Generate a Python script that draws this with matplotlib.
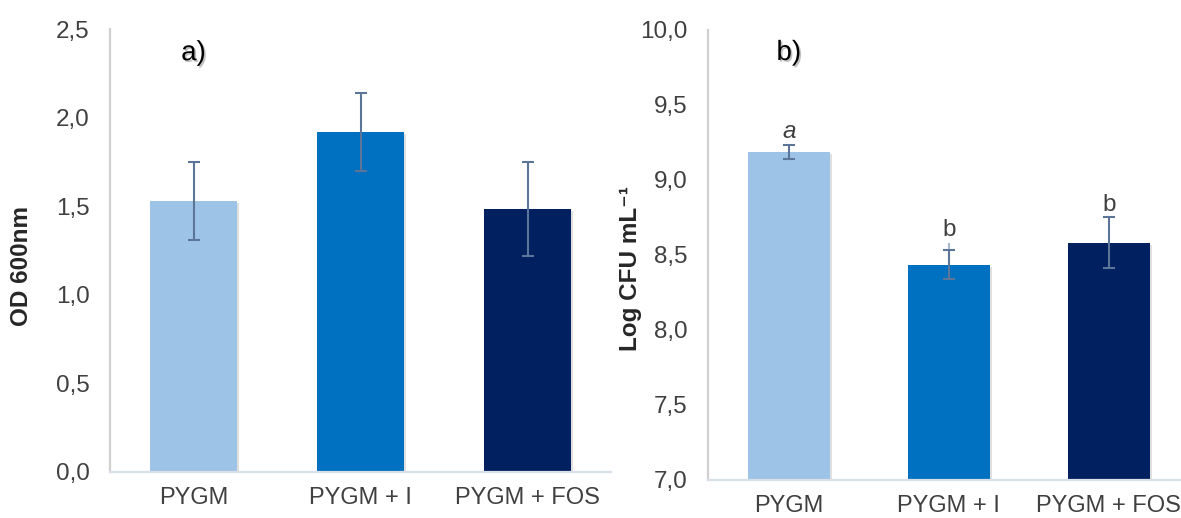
import matplotlib
matplotlib.use("Agg")
import matplotlib.pyplot as plt
import matplotlib.patheffects as pe
import matplotlib.transforms as mtransforms
from matplotlib.ticker import FuncFormatter, MultipleLocator

# ---- data ----
categories = ['PYGM', 'PYGM + I', 'PYGM + FOS']
bar_colors = ['#9DC3E6', '#0070C0', '#002060']

od_values = [1.53, 1.92, 1.485]
od_err = [0.22, 0.222, 0.265]

cfu_values = [9.185, 8.435, 8.58]
cfu_err = [0.048, 0.097, 0.17]
cfu_err_faint = [0.0, 0.147, 0.0]
cfu_letters = ['a', 'b', 'b']
cfu_letter_italic = [True, False, False]

# ---- style ----
plt.rcParams['font.family'] = ['Liberation Sans', 'DejaVu Sans']
W, H = 1181, 518
fig = plt.figure(figsize=(W / 100, H / 100), dpi=100)

TICK_COLOR = '#404040'
ERR_COLOR = '#5b7699'
FAINT_ERR = '#a8b8cf'


def comma_fmt(v, pos):
    return f'{v:.1f}'.replace('.', ',')


def style_axes(ax):
    for s in ['top', 'right']:
        ax.spines[s].set_visible(False)
    ax.spines['left'].set_color('#d0d0d0')
    ax.spines['left'].set_linewidth(1.6)
    ax.spines['bottom'].set_color('#d9dfe8')
    ax.spines['bottom'].set_linewidth(1.6)
    ax.tick_params(axis='both', length=0, colors=TICK_COLOR)
    ax.tick_params(axis='y', labelsize=17.5, pad=14.5)
    ax.tick_params(axis='x', labelsize=17, pad=11)
    ax.yaxis.set_major_formatter(FuncFormatter(comma_fmt))
    ax.set_xticks(range(len(categories)))
    ax.set_xticklabels(categories)


shadow = [pe.SimplePatchShadow(offset=(1.5, -1.5), shadow_rgbFace='#000000', alpha=0.12), pe.Normal()]
title_fx = [pe.SimplePatchShadow(offset=(1.2, -1.2), shadow_rgbFace='#000000', alpha=0.25), pe.Normal()]

# ---- panel a ----
ax1 = fig.add_axes([110 / W, (H - 471.7) / H, 501 / W, 442.4 / H])
x = list(range(len(categories)))
bars = ax1.bar(x, od_values, width=0.515, color=bar_colors, zorder=2)
for b in bars:
    b.set_path_effects(shadow)
ax1.errorbar(x, od_values, yerr=od_err, fmt='none', ecolor=ERR_COLOR,
             elinewidth=1.5, capsize=4.4, capthick=1.5, zorder=3)
ax1.set_ylim(0, 2.5)
ax1.set_xlim(-0.5, 2.5)
ax1.yaxis.set_major_locator(MultipleLocator(0.5))
style_axes(ax1)
ax1.set_ylabel('OD 600nm', fontsize=17.5, fontweight='bold', color='#262626')
ax1.yaxis.set_label_coords(-0.153, 0.465)
tr1 = mtransforms.blended_transform_factory(ax1.transData, ax1.transAxes)
ax1.text(0, 0.946, 'a)', transform=tr1, ha='center', va='center',
         fontsize=20, color='#000000', path_effects=title_fx)

# ---- panel b ----
ax2 = fig.add_axes([707.7 / W, (H - 480) / H, 480 / W, 450 / H])
bars2 = ax2.bar(x, cfu_values, width=0.51, color=bar_colors, zorder=2)
for b in bars2:
    b.set_path_effects(shadow)
ax2.errorbar(x, cfu_values, yerr=[[0] * 3, cfu_err_faint], fmt='none',
             ecolor=FAINT_ERR, elinewidth=1.5, capsize=0, zorder=3)
ax2.errorbar(x, cfu_values, yerr=cfu_err, fmt='none', ecolor=ERR_COLOR,
             elinewidth=1.5, capsize=4.4, capthick=1.5, zorder=4)
ax2.set_ylim(7.0, 10.0)
ax2.set_xlim(-0.507, 2.493)
ax2.yaxis.set_major_locator(MultipleLocator(0.5))
style_axes(ax2)
ax2.set_ylabel('Log CFU mL\u207b\u00b9', fontsize=17.5, fontweight='bold', color='#262626')
ax2.yaxis.set_label_coords(-0.137, 0.469)
tr2 = mtransforms.blended_transform_factory(ax2.transData, ax2.transAxes)
ax2.text(0, 0.949, 'b)', transform=tr2, ha='center', va='center',
         fontsize=20, color='#000000', path_effects=title_fx)

for i, (v, e, ef, lab, it) in enumerate(zip(cfu_values, cfu_err, cfu_err_faint,
                                             cfu_letters, cfu_letter_italic)):
    top = v + max(e, ef)
    ax2.annotate(lab, (i, top), xytext=(0, 5), textcoords='offset points',
                 ha='center', va='baseline', fontsize=17.5, color=TICK_COLOR,
                 style='italic' if it else 'normal')

fig.savefig('out.png', dpi=100)
